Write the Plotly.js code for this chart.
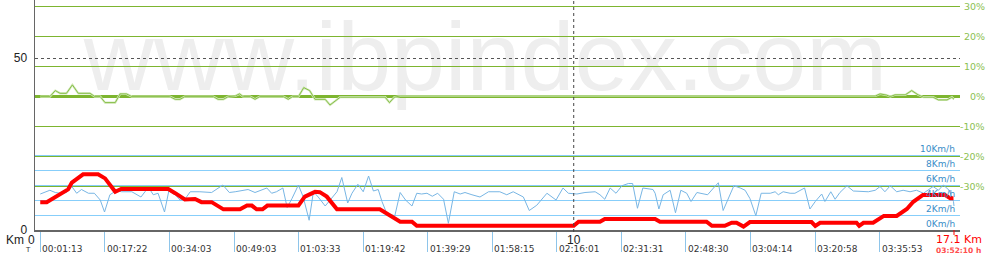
<!DOCTYPE html>
<html>
<head>
<meta charset="utf-8">
<script src="https://cdn.plot.ly/plotly-3.0.1.min.js"></script>
<style>
  html, body { margin: 0; padding: 0; background: #ffffff; }
  #chart { width: 990px; height: 270px; }
</style>
</head>
<body>
<div id="chart"></div>
<script>
// ---------- DATA ----------
// Speed (km/h) vs distance (km)
const speedKm = [0.04,0.22,0.32,0.41,0.53,0.63,0.72,0.81,0.94,1.05,1.16,1.24,1.34,1.47,1.56,1.75,1.92,2.06,2.15,2.24,2.36,2.44,2.56,2.65,2.74,2.84,3.02,3.15,3.24,3.45,3.57,3.68,3.80,3.92,4.05,4.17,4.27,4.36,4.45,4.57,4.65,4.74,4.86,4.95,5.06,5.14,5.23,5.36,5.45,5.58,5.67,5.73,5.78,5.86,5.97,6.07,6.17,6.26,6.35,6.42,6.51,6.66,6.76,6.86,6.98,7.07,7.16,7.26,7.36,7.46,7.57,7.66,7.77,7.88,7.97,8.10,8.25,8.41,8.62,8.75,8.87,9.06,9.17,9.31,9.50,9.67,9.80,9.90,10.06,10.21,10.40,10.49,10.58,10.68,10.79,10.90,11.02,11.10,11.19,11.29,11.48,11.52,11.59,11.67,11.80,11.90,12.00,12.11,12.19,12.30,12.39,12.50,12.61,12.70,12.79,12.89,12.99,13.11,13.20,13.29,13.40,13.50,13.67,13.76,13.82,13.91,14.04,14.13,14.31,14.41,14.51,14.63,14.69,14.80,14.88,14.97,15.10,15.22,15.38,15.50,15.63,15.72,15.81,15.91,16.03,16.15,16.28,16.40,16.53,16.62,16.71,16.81,16.90,17.01,17.09,17.10];
const speedKmh = [4.8,5.3,5.0,4.9,5.0,5.8,4.9,5.4,4.9,4.9,4.0,2.4,4.7,5.3,5.1,5.1,4.4,5.7,4.7,4.9,2.4,5.2,4.7,4.0,4.1,5.1,5.1,5.1,5.0,6.0,5.0,5.1,5.2,5.4,5.0,5.3,5.6,4.9,5.1,5.6,3.0,4.2,6.0,4.4,1.3,5.1,4.4,3.2,4.0,5.1,7.0,5.3,3.6,4.9,6.1,5.1,7.2,5.2,5.4,3.8,2.2,1.9,5.0,4.0,3.2,4.9,4.8,4.9,4.5,4.9,4.1,0.9,5.1,4.8,5.0,4.7,4.4,5.1,5.1,4.7,5.1,4.4,2.6,3.3,4.9,4.0,5.6,4.9,4.8,5.0,5.1,4.7,4.1,5.6,4.9,5.9,6.2,6.2,2.9,5.6,5.4,4.9,2.8,4.7,5.3,2.3,5.3,4.9,3.8,5.0,4.9,4.7,5.6,6.3,2.6,4.2,5.9,5.6,5.3,4.2,1.9,4.9,4.9,5.1,4.7,5.1,4.9,4.9,5.6,2.8,3.8,4.8,3.8,5.1,4.1,5.0,5.9,5.2,5.1,5.1,5.3,5.8,5.1,5.9,5.1,5.3,5.1,5.3,4.9,5.3,5.8,5.3,6.0,5.3,3.8,3.2];

// Elevation (left axis) vs distance (km)
const elevKm = [0.04,0.16,0.56,0.63,0.84,1.12,1.25,1.44,1.55,2.43,2.56,2.74,2.93,3.05,3.24,3.46,3.77,3.90,3.99,4.08,4.19,4.28,4.86,4.98,5.17,5.26,5.39,5.58,6.38,6.51,6.76,6.98,7.07,10.00,10.09,10.49,10.58,11.52,11.61,12.48,12.58,12.82,12.95,13.04,13.17,13.29,14.44,14.51,14.60,15.28,15.33,15.41,15.59,15.79,16.03,16.22,16.34,16.52,16.93,17.03,17.09];
const elevVal = [8.1,8.1,11.8,13.8,16.2,16.2,15.0,11.1,11.9,11.9,10.7,8.9,9.0,8.1,8.1,6.0,6.0,7.1,7.1,6.0,6.0,7.1,7.1,9.7,11.1,11.0,9.7,6.0,6.0,4.7,2.4,2.4,1.2,1.2,2.4,2.4,3.2,3.2,2.4,2.4,1.2,1.2,2.1,2.1,1.0,2.3,2.3,1.2,2.1,2.1,1.2,2.1,2.1,4.1,4.1,6.1,8.2,10.2,10.2,9.2,9.2];

// Slope (%) vs distance (km)
const slopeKm = [0.04,0.22,0.32,0.41,0.53,0.64,0.75,0.97,1.06,1.16,1.25,1.44,1.53,1.65,1.75,2.46,2.56,2.65,2.74,3.27,3.36,3.46,3.55,3.68,3.76,3.83,3.96,4.05,4.14,4.58,4.67,4.75,4.86,4.96,5.07,5.17,5.36,5.45,5.64,6.48,6.56,6.65,6.76,15.63,15.72,15.84,15.91,16.00,16.19,16.31,16.43,16.53,16.71,16.81,16.97,17.06,17.10];
const slopePct = [-0.2,-0.2,1.8,0.9,0.9,3.7,0.9,0.9,-0.2,-0.2,-2.2,-2.2,0.7,0.7,-0.2,-0.2,-1.1,-1.1,-0.2,-0.2,-1.1,-1.1,-0.2,0,0.7,-0.2,-0.2,-1.1,-0.2,-0.2,-1.1,-0.2,-0.2,2.8,1.8,-1.1,-1.1,-3.0,-0.4,-0.4,-2.2,-0.4,0,0,0.7,0.3,-0.2,0.4,0.4,1.8,0.4,-0.4,-0.4,-1.3,-1.3,-0.4,-1.1];

// Axis ticks / labels
const timeTickKm = [0.04,1.24,2.45,3.66,4.86,6.07,7.27,8.48,9.68,10.89,12.09,13.30,14.51,15.71];
const timeTickText = ['00:01:13','00:17:22','00:34:03','00:49:03','01:03:33','01:19:42','01:39:29','01:58:15','02:16:01','02:31:31','02:48:30','03:04:14','03:20:58','03:35:53'];
const speedTicks = [0,2,4,6,8,10];
const speedTickText = ['0Km/h','2Km/h','4Km/h','6Km/h','8Km/h','10Km/h'];
const pctTicks = [-30,-20,-10,0,10,20,30];
const elevTicks = [0,50];
const kmMarks = [0,10];
const totalKm = 17.1;
const totalKmText = '17.1 Km';
const totalTimeText = '03:52:10 h';
const watermark = 'www.ibpindex.com';

// ---------- LAYOUT HELPERS ----------
const PLOT_H = 230;
const py = (Y) => 1 - Y / PLOT_H;  // pixel row -> paper y

const traces = [
  { x: speedKm, y: speedKmh, xaxis: 'x', yaxis: 'y', mode: 'lines',
    line: { color: '#78b6e4', width: 1 }, hoverinfo: 'skip' },
  { x: slopeKm, y: slopePct, xaxis: 'x', yaxis: 'y2', mode: 'lines',
    line: { color: '#d3e9bb', width: 2.2 }, hoverinfo: 'skip' },
  { x: slopeKm, y: slopePct, xaxis: 'x', yaxis: 'y2', mode: 'lines',
    line: { color: '#88bf4a', width: 1 }, hoverinfo: 'skip' },
  { x: elevKm, y: elevVal, xaxis: 'x', yaxis: 'y3', mode: 'lines',
    line: { color: '#ff0000', width: 4 }, hoverinfo: 'skip' }
];

const annotations = [];
pctTicks.forEach(p => annotations.push({
  text: p + '%', xref: 'paper', x: 1, xshift: 26, xanchor: 'right',
  yref: 'y2', y: p, yanchor: 'middle', showarrow: false, borderpad: 0,
  font: { family: 'DejaVu Sans', size: 9.5, color: '#8cc152' }
}));
speedTicks.forEach((s, i) => annotations.push({
  text: speedTickText[i], xref: 'paper', x: 1, xshift: -4, xanchor: 'right',
  yref: 'y', y: s, yanchor: 'bottom', yshift: 0, showarrow: false, borderpad: 0,
  font: { family: 'DejaVu Sans', size: 9, color: '#3a8dc8' }
}));
timeTickKm.forEach((k, i) => annotations.push({
  text: timeTickText[i], xref: 'x', x: k, xanchor: 'left', xshift: 1,
  yref: 'paper', y: py(248.5), yanchor: 'middle', showarrow: false, borderpad: 0,
  font: { family: 'DejaVu Sans', size: 9, color: '#333333' }
}));
annotations.push({ text: 'Km', xref: 'paper', x: (14.5 - 35) / 925, xanchor: 'center',
  yref: 'paper', y: py(240), yanchor: 'middle', showarrow: false, borderpad: 0,
  font: { family: 'Liberation Sans', size: 12, color: '#222222' } });
annotations.push({ text: 'T', xref: 'paper', x: (27.5 - 35) / 925, xanchor: 'center',
  yref: 'paper', y: py(250), yanchor: 'middle', showarrow: false, borderpad: 0,
  font: { family: 'DejaVu Sans', size: 7, color: '#333333' } });
annotations.push({ text: String(kmMarks[0]), xref: 'x', x: kmMarks[0], xanchor: 'right', xshift: -2,
  yref: 'paper', y: py(240), yanchor: 'middle', showarrow: false, borderpad: 0,
  font: { family: 'Liberation Sans', size: 12, color: '#222222' } });
annotations.push({ text: String(kmMarks[1]), xref: 'x', x: kmMarks[1], xanchor: 'center',
  yref: 'paper', y: py(239.5), yanchor: 'middle', showarrow: false, borderpad: 0,
  font: { family: 'Liberation Sans', size: 12, color: '#222222' } });
annotations.push({ text: totalKmText, xref: 'x', x: totalKm, xanchor: 'center', xshift: 5,
  yref: 'paper', y: py(239.5), yanchor: 'middle', showarrow: false, borderpad: 0,
  font: { family: 'DejaVu Sans', size: 11, color: '#ff0000' } });
annotations.push({ text: '<b>' + totalTimeText + '</b>', xref: 'x', x: totalKm, xanchor: 'center', xshift: 4,
  yref: 'paper', y: py(250), yanchor: 'middle', showarrow: false, borderpad: 0,
  font: { family: 'DejaVu Sans', size: 7.5, color: '#ff4d4d' } });

const shapes = [
  { type: 'rect', layer: 'below', xref: 'paper', yref: 'paper',
    x0: -0.03, x1: 1.004, y0: py(94), y1: py(0),
    line: { width: 0 }, fillcolor: 'rgba(0,0,0,0)',
    label: { text: watermark, textposition: 'middle center',
      font: { family: 'Liberation Sans', size: 97, color: '#eeeeee' } } },
  { type: 'line', xref: 'x', yref: 'paper', x0: kmMarks[1], x1: kmMarks[1], y0: py(232), y1: 1,
    line: { color: '#444444', width: 1, dash: 'dot' } },
  { type: 'line', xref: 'x', yref: 'paper', x0: totalKm, x1: totalKm, y0: 0, y1: py(235),
    line: { color: '#ff0000', width: 1 } }
];

const layout = {
  width: 990, height: 270,
  margin: { l: 35, r: 30, t: 0, b: 40, pad: 0 },
  paper_bgcolor: '#ffffff', plot_bgcolor: '#ffffff',
  font: { family: 'DejaVu Sans', size: 10, color: '#333333' },
  showlegend: false, hovermode: false,
  xaxis: {
    range: [-0.058, 17.212], showgrid: false, zeroline: false,
    showline: true, linecolor: '#666666', linewidth: 1.5,
    tickmode: 'array', tickvals: timeTickKm, showticklabels: false,
    ticks: 'outside', ticklen: 20, tickcolor: '#8ec5ea', tickwidth: 1
  },
  yaxis: {
    range: [0, 30.667], side: 'right', zeroline: false, showline: false,
    tickmode: 'array', tickvals: speedTicks, showticklabels: false,
    showgrid: true, gridcolor: '#87cefa', gridwidth: 1, ticks: ''
  },
  yaxis2: {
    overlaying: 'y', side: 'right', range: [-44.667, 32],
    tickmode: 'array', tickvals: pctTicks, showticklabels: false, ticks: '',
    showgrid: true, gridcolor: '#7db52f', gridwidth: 1,
    zeroline: true, zerolinecolor: '#7db52f', zerolinewidth: 3, showline: false
  },
  yaxis3: {
    overlaying: 'y', side: 'left', range: [0, 66.86],
    tickmode: 'array', tickvals: elevTicks, ticktext: elevTicks.map(String),
    showgrid: true, gridcolor: '#555555', gridwidth: 1, griddash: 'dot',
    zeroline: false, showline: true, linecolor: '#666666', linewidth: 1.5,
    ticks: '', ticklabelstandoff: 4,
    tickfont: { family: 'Liberation Sans', size: 12, color: '#222222' }
  },
  annotations: annotations,
  shapes: shapes
};

Plotly.newPlot('chart', traces, layout, { displayModeBar: false, staticPlot: true });
</script>
</body>
</html>
